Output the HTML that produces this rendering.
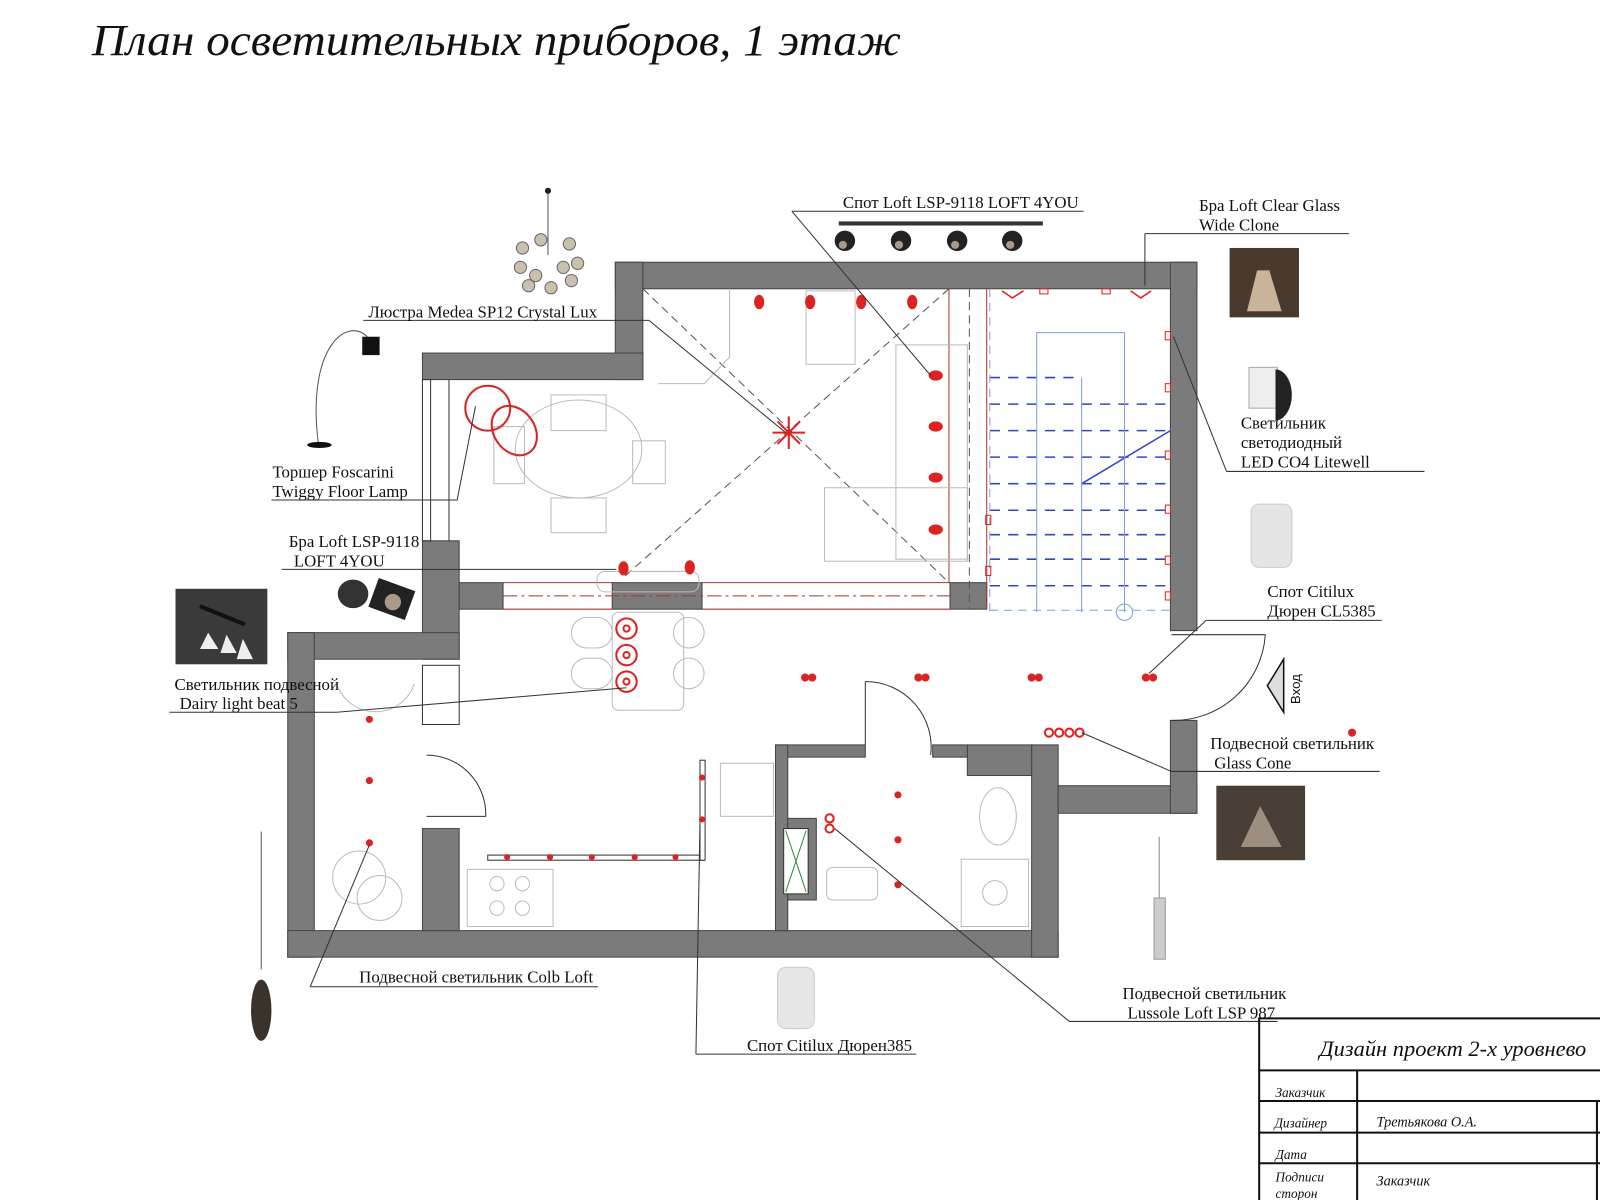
<!DOCTYPE html>
<html><head><meta charset="utf-8"><style>
html,body{margin:0;padding:0;background:#fff;width:1600px;height:1200px;overflow:hidden}
svg{display:block}
text{font-family:"Liberation Serif","Noto Serif CJK SC",serif;fill:#111}
</style></head><body>
<svg width="1600" height="1200" viewBox="0 0 1568 1176" xmlns="http://www.w3.org/2000/svg">
<text x="90" y="54" font-size="44" font-style="italic" textLength="793" lengthAdjust="spacingAndGlyphs">План осветительных приборов, 1 этаж</text>

<!-- walls -->
<g fill="#7b7b7b" stroke="#444" stroke-width="1">
<rect x="603" y="257" width="570" height="26"/>
<rect x="1147" y="257" width="26" height="361"/>
<rect x="603" y="257" width="27" height="115"/>
<rect x="414" y="346" width="216" height="26"/>
<rect x="414" y="530" width="36" height="116"/>
<rect x="282" y="620" width="168" height="26"/>
<rect x="282" y="620" width="26" height="318"/>
<rect x="282" y="912" width="755" height="26"/>
<rect x="1011" y="730" width="26" height="208"/>
<rect x="1037" y="770" width="136" height="27"/>
<rect x="1147" y="706" width="26" height="91"/>
<rect x="948" y="730" width="63" height="30"/>
<rect x="760" y="730" width="88" height="12"/>
<rect x="914" y="730" width="34" height="12"/>
<rect x="760" y="730" width="12" height="182"/>
<rect x="772" y="802" width="28" height="80"/>
<rect x="450" y="571" width="43" height="26"/>
<rect x="600" y="571" width="88" height="26"/>
<rect x="931" y="571" width="36" height="26"/>
<rect x="414" y="812" width="36" height="100"/>
</g>
<rect x="768" y="812" width="24" height="64" fill="#fff" stroke="#333"/>
<path d="M770 814L790 874M790 814L770 874" stroke="#2a8a3a"/>
<g stroke="#333" fill="none" stroke-width="1">
<rect x="414" y="372" width="8" height="158"/>
<rect x="414" y="652" width="36" height="58"/>
<line x1="440" y1="372" x2="440" y2="530"/>
<path d="M418 740 A58 58 0 0 1 476 800 L418 800"/>
<path d="M848 668 L848 730 M848 668 A64 64 0 0 1 912 740"/>
<path d="M1148 622 L1240 622 A90 90 0 0 1 1148 706"/>
</g>
<g stroke="#a33" stroke-width="1" fill="none">
<line x1="493" y1="571" x2="600" y2="571"/><line x1="493" y1="597" x2="600" y2="597"/>
<line x1="688" y1="571" x2="931" y2="571"/><line x1="688" y1="597" x2="931" y2="597"/>
<line x1="493" y1="584" x2="931" y2="584" stroke-dasharray="14 4 3 4"/>
<line x1="930" y1="283" x2="930" y2="571"/>
<line x1="967" y1="283" x2="967" y2="597"/>
</g>
<g stroke="#555" stroke-dasharray="8 5" fill="none">
<line x1="630" y1="283" x2="930" y2="571"/>
<line x1="930" y1="283" x2="612" y2="565"/>
<line x1="950" y1="283" x2="950" y2="597"/>
</g>
<g stroke="#3344cc" stroke-width="1.5" fill="none">
<path d="M970 370H1060M970 396H1147M970 422H1147M970 448H1147M970 474H1147M970 500H1147M970 524H1147M970 548H1147M970 574H1147" stroke-dasharray="10 8"/>
<line x1="1060" y1="474" x2="1147" y2="422"/>
</g>
<g stroke="#7aa0e0" fill="none">
<path d="M1016 600V326H1102V600M1060 370V600"/>
<circle cx="1102" cy="600" r="8"/>
<line x1="970" y1="283" x2="970" y2="600" stroke-dasharray="8 6"/>
<line x1="970" y1="598" x2="1147" y2="598" stroke-dasharray="8 6"/>
</g>
<g stroke="#bbb" fill="none">
<ellipse cx="567" cy="440" rx="62" ry="48"/>
<rect x="540" y="387" width="54" height="35"/><rect x="540" y="488" width="54" height="34"/>
<rect x="484" y="418" width="30" height="56"/><rect x="620" y="432" width="32" height="42"/>
<rect x="790" y="285" width="48" height="72"/>
<rect x="878" y="338" width="70" height="210"/><rect x="808" y="478" width="140" height="72"/>
<path d="M715 283V350L690 376H645"/>
<rect x="585" y="560" width="100" height="20" rx="8"/>
<rect x="600" y="600" width="70" height="96" rx="6"/>
<rect x="560" y="605" width="40" height="30" rx="15"/><rect x="560" y="645" width="40" height="30" rx="15"/>
<rect x="660" y="605" width="30" height="30" rx="15"/><rect x="660" y="645" width="30" height="30" rx="15"/>
<rect x="458" y="852" width="84" height="56"/>
<circle cx="487" cy="866" r="7"/><circle cx="512" cy="866" r="7"/><circle cx="487" cy="890" r="7"/><circle cx="512" cy="890" r="7"/>
<rect x="706" y="748" width="52" height="52"/>
<rect x="810" y="850" width="50" height="32" rx="6"/>
<ellipse cx="978" cy="800" rx="18" ry="28"/>
<rect x="942" y="842" width="66" height="66"/>
<circle cx="975" cy="875" r="12"/>
<path d="M330 670A40 40 0 0 0 406 670"/>
<circle cx="352" cy="860" r="26"/><circle cx="372" cy="880" r="22"/>
</g>
<g stroke="#333" fill="#fff"><rect x="478" y="838" width="212" height="5"/><rect x="686" y="745" width="5" height="98"/></g>
<g fill="#d22">
<circle cx="497" cy="840" r="3"/><circle cx="539" cy="840" r="3"/><circle cx="580" cy="840" r="3"/><circle cx="622" cy="840" r="3"/><circle cx="662" cy="840" r="3"/>
<circle cx="688" cy="762" r="3"/><circle cx="688" cy="803" r="3"/>
<circle cx="362" cy="705" r="3.5"/><circle cx="362" cy="765" r="3.5"/><circle cx="362" cy="826" r="3.5"/>
<circle cx="880" cy="779" r="3.5"/><circle cx="880" cy="823" r="3.5"/><circle cx="880" cy="867" r="3.5"/>
<circle cx="1325" cy="718" r="4"/>
<circle cx="789" cy="664" r="4"/><circle cx="796" cy="664" r="4"/>
<circle cx="900" cy="664" r="4"/><circle cx="907" cy="664" r="4"/>
<circle cx="1011" cy="664" r="4"/><circle cx="1018" cy="664" r="4"/>
<circle cx="1123" cy="664" r="4"/><circle cx="1130" cy="664" r="4"/>
<ellipse cx="744" cy="296" rx="5" ry="7"/><ellipse cx="794" cy="296" rx="5" ry="7"/><ellipse cx="844" cy="296" rx="5" ry="7"/><ellipse cx="894" cy="296" rx="5" ry="7"/>
<ellipse cx="917" cy="368" rx="7" ry="5"/><ellipse cx="917" cy="418" rx="7" ry="5"/><ellipse cx="917" cy="468" rx="7" ry="5"/><ellipse cx="917" cy="519" rx="7" ry="5"/>
<ellipse cx="611" cy="557" rx="5" ry="7"/><ellipse cx="676" cy="556" rx="5" ry="7"/>
</g>
<g stroke="#d22" fill="none" stroke-width="2">
<circle cx="614" cy="616" r="10"/><circle cx="614" cy="642" r="10"/><circle cx="614" cy="668" r="10"/>
<circle cx="614" cy="616" r="3"/><circle cx="614" cy="642" r="3"/><circle cx="614" cy="668" r="3"/>
<circle cx="478" cy="400" r="22"/><ellipse cx="504" cy="422" rx="20" ry="26" transform="rotate(-35 504 422)"/>
<circle cx="813" cy="802" r="4"/><circle cx="813" cy="812" r="4"/>
<circle cx="1028" cy="718" r="4"/><circle cx="1038" cy="718" r="4"/><circle cx="1048" cy="718" r="4"/><circle cx="1058" cy="718" r="4"/>
<path d="M757 424H789M773 408V440M762 413L784 435M784 413L762 435"/>
<path d="M982 285L992 292L1003 285M1108 285L1118 292L1128 285" stroke-width="1.5"/>
</g>
<g fill="none" stroke="#d22" stroke-width="1">
<rect x="1019" y="283" width="8" height="5"/><rect x="1080" y="283" width="8" height="5"/>
<rect x="1142" y="325" width="5" height="8"/><rect x="1142" y="376" width="5" height="8"/><rect x="1142" y="442" width="5" height="8"/><rect x="1142" y="495" width="5" height="8"/><rect x="1142" y="545" width="5" height="8"/><rect x="1142" y="580" width="5" height="8"/>
<rect x="966" y="505" width="5" height="9"/><rect x="966" y="555" width="5" height="9"/>
</g>
<g stroke="#333" stroke-width="1" fill="none">
<path d="M776 207H1062M776 207L912 368"/>
<path d="M1122 229H1322M1122 229V280"/>
<path d="M356 314H603L636 314L770 424"/>
<path d="M266 490H448L466 398"/>
<path d="M276 558H604"/>
<path d="M1202 462H1396M1202 462L1150 330"/>
<path d="M1182 608H1354M1182 608L1126 660"/>
<path d="M166 698H330L614 674"/>
<path d="M1148 756H1352M1148 756L1060 718"/>
<path d="M304 967H586M304 967L362 828"/>
<path d="M682 1033H898M682 1033L686 805"/>
<path d="M1048 1001H1252M1048 1001L818 812"/>
</g>
<path d="M1258 646L1242 672L1258 698Z" fill="#ddd" stroke="#111" stroke-width="1.5"/>
<text x="0" y="0" font-size="13" transform="translate(1274 690) rotate(-90)" style="font-family:'Liberation Sans',sans-serif">Вход</text>

<g font-size="16.5">
<text x="826" y="204">Спот Loft LSP-9118 LOFT 4YOU</text>
<text x="1175" y="207">Бра Loft Clear Glass</text><text x="1175" y="226">Wide Clone</text>
<text x="361" y="311">Люстра Medea SP12 Crystal Lux</text>
<text x="267" y="468">Торшер  Foscarini</text><text x="267" y="487">Twiggy Floor Lamp</text>
<text x="283" y="536">Бра Loft LSP-9118</text><text x="288" y="555">LOFT 4YOU</text>
<text x="1216" y="420">Светильник</text><text x="1216" y="439">светодиодный</text><text x="1216" y="458">LED CO4 Litewell</text>
<text x="1242" y="585">Спот Citilux</text><text x="1242" y="604">Дюрен CL5385</text>
<text x="171" y="676">Светильник подвесной</text><text x="176" y="695">Dairy light beat 5</text>
<text x="1186" y="734">Подвесной светильник</text><text x="1190" y="753">Glass Cone</text>
<text x="352" y="963">Подвесной светильник Colb Loft</text>
<text x="1100" y="979">Подвесной светильник</text><text x="1105" y="998">Lussole Loft LSP 987</text>
<text x="732" y="1030">Спот Citilux Дюрен385</text>
</g>

<g>
<line x1="537" y1="188" x2="537" y2="250" stroke="#555"/>
<circle cx="537" cy="187" r="3" fill="#222"/>
<g fill="#c9c1ad" stroke="#666"><circle cx="512" cy="243" r="6"/><circle cx="530" cy="235" r="6"/><circle cx="558" cy="239" r="6"/><circle cx="510" cy="262" r="6"/><circle cx="525" cy="270" r="6"/><circle cx="552" cy="262" r="6"/><circle cx="566" cy="258" r="6"/><circle cx="518" cy="280" r="6"/><circle cx="540" cy="282" r="6"/><circle cx="560" cy="275" r="6"/></g>
<path d="M312 435C300 340 340 310 360 330" stroke="#555" fill="none"/>
<rect x="355" y="330" width="17" height="18" fill="#111"/>
<ellipse cx="313" cy="436" rx="12" ry="3" fill="#111"/>
<rect x="822" y="217" width="200" height="4" fill="#333"/>
<g fill="#222"><circle cx="828" cy="236" r="10"/><circle cx="883" cy="236" r="10"/><circle cx="938" cy="236" r="10"/><circle cx="992" cy="236" r="10"/></g>
<g fill="#a98"><circle cx="826" cy="240" r="4"/><circle cx="881" cy="240" r="4"/><circle cx="936" cy="240" r="4"/><circle cx="990" cy="240" r="4"/></g>
<rect x="1205" y="243" width="68" height="68" fill="#4a3a2e"/>
<path d="M1232 265L1222 305H1256L1244 265Z" fill="#c9b49a"/>
<rect x="1224" y="360" width="28" height="40" fill="#eee" stroke="#aaa"/>
<path d="M1250 362A16 25 0 0 1 1250 412Z" fill="#222"/>
<rect x="1226" y="494" width="40" height="62" rx="8" fill="#e5e5e5" stroke="#ccc"/>
<ellipse cx="346" cy="582" rx="15" ry="14" fill="#333"/>
<rect x="365" y="572" width="38" height="30" fill="#222" transform="rotate(20 384 587)"/>
<circle cx="385" cy="590" r="8" fill="#a98"/>
<rect x="172" y="577" width="90" height="74" fill="#3a3a3a"/>
<line x1="196" y1="594" x2="240" y2="612" stroke="#111" stroke-width="4"/>
<path d="M204 620L196 636H214Z M222 622L216 640H232Z M238 626L232 646H248Z" fill="#eee"/>
<rect x="1192" y="770" width="87" height="73" fill="#4a3f36"/>
<path d="M1235 790L1216 830H1256Z" fill="#9c8f80"/>
<line x1="1136" y1="820" x2="1136" y2="880" stroke="#888"/>
<rect x="1131" y="880" width="11" height="60" fill="#ccc" stroke="#999"/>
<line x1="256" y1="815" x2="256" y2="950" stroke="#555"/>
<ellipse cx="256" cy="990" rx="10" ry="30" fill="#3a332c"/>
<rect x="762" y="948" width="36" height="60" rx="8" fill="#e7e7e7" stroke="#ccc"/>
</g>

<g stroke="#111" stroke-width="2" fill="none">
<path d="M1234 1176V998H1568"/>
<line x1="1234" y1="1049" x2="1568" y2="1049"/>
<line x1="1234" y1="1079" x2="1568" y2="1079"/>
<line x1="1234" y1="1110" x2="1568" y2="1110"/>
<line x1="1234" y1="1140" x2="1568" y2="1140"/>
<line x1="1330" y1="1049" x2="1330" y2="1176"/>
<line x1="1565" y1="1079" x2="1565" y2="1176"/>
</g>
<g font-style="italic">
<text x="1293" y="1035" font-size="22">Дизайн проект 2-х уровнево</text>
<text x="1250" y="1075" font-size="13">Заказчик</text>
<text x="1249" y="1105" font-size="13">Дизайнер</text>
<text x="1349" y="1104" font-size="14">Третьякова О.А.</text>
<text x="1250" y="1136" font-size="13">Дата</text>
<text x="1250" y="1158" font-size="13">Подписи</text>
<text x="1250" y="1174" font-size="13">сторон</text>
<text x="1349" y="1162" font-size="14">Заказчик</text>
</g>
</svg>
</body></html>
